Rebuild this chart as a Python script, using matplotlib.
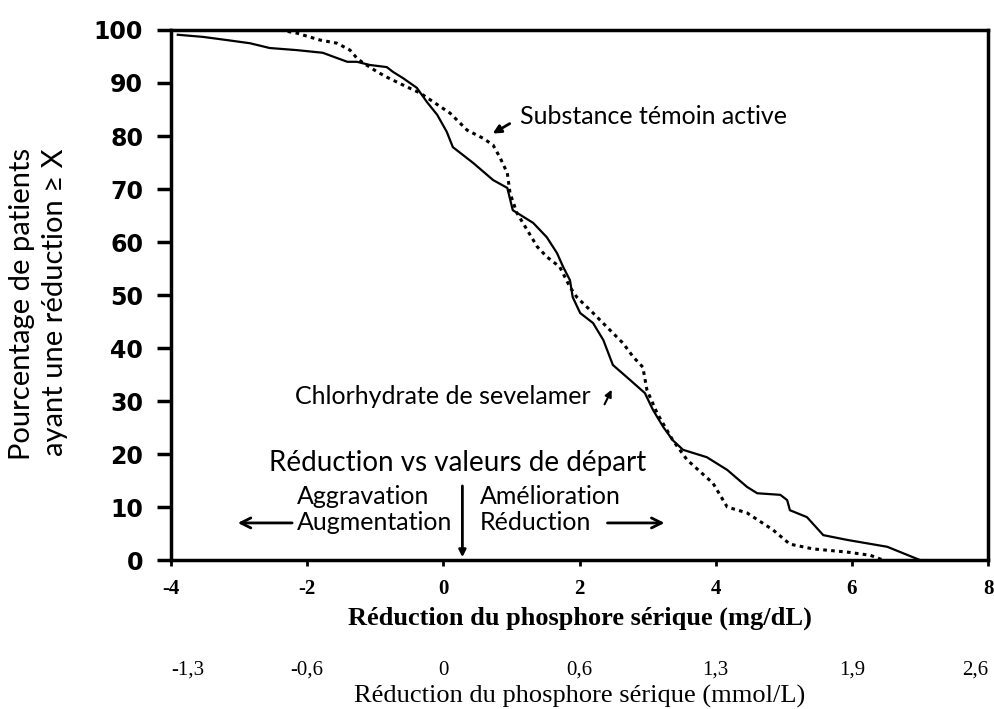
import matplotlib
matplotlib.use("Agg")
import matplotlib.pyplot as plt

# Chlorhydrate de sevelamer (trait plein)
sevelamer_x = [-3.9, -3.53, -3.18, -2.84, -2.55, -2.15, -1.77, -1.56, -1.41, -1.27,
               -1.08, -0.83, -0.74, -0.59, -0.39, -0.24, -0.09, 0.05, 0.14, 0.44,
               0.73, 0.94, 1.02, 1.32, 1.52, 1.67, 1.76, 1.86, 1.90, 2.01,
               2.20, 2.35, 2.49, 2.74, 2.96, 3.08, 3.23, 3.37, 3.52, 3.87,
               4.17, 4.46, 4.61, 4.95, 5.05, 5.09, 5.34, 5.58, 5.93, 6.52, 7.0]
sevelamer_y = [99.1, 98.7, 98.1, 97.5, 96.6, 96.2, 95.7, 94.7, 94.0, 94.0,
               93.4, 93.0, 92.1, 90.9, 89.1, 86.4, 84.0, 80.8, 77.9, 74.9,
               71.7, 70.2, 66.0, 63.6, 60.9, 57.9, 55.3, 52.8, 49.6, 46.6,
               44.7, 41.5, 36.8, 34.0, 31.5, 28.3, 25.1, 22.6, 20.8, 19.4,
               17.0, 13.8, 12.6, 12.3, 11.3, 9.4, 8.1, 4.7, 3.8, 2.5, 0.0]

# Substance témoin active (pointillé)
temoin_x = [-2.4, -2.15, -1.81, -1.56, -1.37, -1.27, -1.18, -0.97, -0.83, -0.59,
            -0.34, 0.10, 0.35, 0.58, 0.73, 0.83, 0.94, 0.98, 1.08, 1.23,
            1.38, 1.52, 1.71, 1.86, 1.96, 2.20, 2.40, 2.64, 2.79, 2.93,
            2.99, 3.14, 3.37, 3.58, 3.96, 4.17, 4.46, 4.84, 5.09, 5.43,
            5.93, 6.27, 6.46]
temoin_y = [100.0, 99.4, 98.1, 97.5, 96.2, 94.7, 93.8, 92.1, 91.1, 89.6,
            88.1, 84.3, 81.1, 79.6, 78.3, 76.0, 73.0, 69.2, 65.5, 62.3,
            59.1, 57.2, 55.3, 51.5, 49.6, 46.6, 44.0, 40.9, 38.3, 36.4,
            32.1, 27.7, 22.6, 18.9, 14.5, 10.0, 8.9, 5.7, 3.0, 2.1,
            1.5, 0.9, 0.0]

mg_ticks = [-4, -2, 0, 2, 4, 6, 8]
mmol_labels = ["-1,3", "-0,6", "0", "0,6", "1,3", "1,9", "2,6"]
pct_ticks = [0, 10, 20, 30, 40, 50, 60, 70, 80, 90, 100]

plt.rcParams["font.family"] = ["Lato", "DejaVu Sans"]

fig = plt.figure(figsize=(9.94, 7.09), dpi=100)
ax = fig.add_axes([0.172, 0.2101, 0.822, 0.7476])

ax.plot(sevelamer_x, sevelamer_y, color="black", lw=1.6)
ax.plot(temoin_x, temoin_y, color="black", lw=2.2, linestyle=(0, (1.2, 1.4)))

ax.set_xlim(-4, 8)
ax.set_ylim(0, 100)
for s in ax.spines.values():
    s.set_linewidth(2.5)

ax.set_yticks(pct_ticks)
ax.set_yticklabels([str(v) for v in pct_ticks], family="DejaVu Sans",
                   fontweight="bold", fontsize=17)
ax.tick_params(axis="y", direction="out", length=10, width=2.5, pad=10)

ax.set_xticks(mg_ticks)
ax.set_xticklabels([str(v) for v in mg_ticks], family="Liberation Serif",
                   fontweight="bold", fontsize=15)
ax.tick_params(axis="x", direction="out", length=4, width=2, pad=10)
ax.set_xlabel("Réduction du phosphore sérique (mg/dL)", family="Liberation Serif",
              fontweight="bold", fontsize=19, labelpad=5)

sec = ax.secondary_xaxis(-0.19)
sec.set_xticks(mg_ticks)
sec.set_xticklabels(mmol_labels, family="Liberation Serif", fontsize=15)
lbls = sec.get_xticklabels()
lbls[0].set_ha("left")
lbls[-1].set_ha("right")
sec.tick_params(length=0, pad=0)
sec.spines["bottom"].set_visible(False)
sec.set_xlabel("Réduction du phosphore sérique (mmol/L)", family="Liberation Serif",
               fontsize=19, labelpad=4)

fig.text(0.0387, 0.571, "Pourcentage de patients\nayant une réduction ≥ X",
         rotation=90, ha="center", va="center", multialignment="right",
         fontsize=21, linespacing=1.3)

# annotations
ax.text(1.13, 83.6, "Substance témoin active", fontsize=18, va="center")
ax.annotate("", xy=(0.69, 80.2), xytext=(1.01, 82.6),
            arrowprops=dict(arrowstyle="-|>", color="black", lw=2, mutation_scale=12))

ax.text(-2.18, 30.8, "Chlorhydrate de sevelamer", fontsize=18, va="center")
ax.annotate("", xy=(2.49, 32.6), xytext=(2.35, 28.9),
            arrowprops=dict(arrowstyle="-|>", color="black", lw=1.5, mutation_scale=10))

ax.text(0.21, 18.3, "Réduction vs valeurs de départ", fontsize=20, ha="center", va="center")
ax.text(-2.15, 11.9, "Aggravation", fontsize=18, va="center")
ax.text(-2.15, 7.0, "Augmentation", fontsize=18, va="center")
ax.text(0.54, 11.9, "Amélioration", fontsize=18, va="center")
ax.text(0.54, 7.0, "Réduction", fontsize=18, va="center")

ax.annotate("", xy=(-3.06, 7.0), xytext=(-2.18, 7.0),
            arrowprops=dict(arrowstyle="->", color="black", lw=2, mutation_scale=18))
ax.annotate("", xy=(3.29, 7.0), xytext=(2.37, 7.0),
            arrowprops=dict(arrowstyle="->", color="black", lw=2, mutation_scale=18))
ax.annotate("", xy=(0.28, 0), xytext=(0.28, 14.5),
            arrowprops=dict(arrowstyle="-|>", color="black", lw=2, mutation_scale=10))

fig.savefig("out.png", dpi=100)
